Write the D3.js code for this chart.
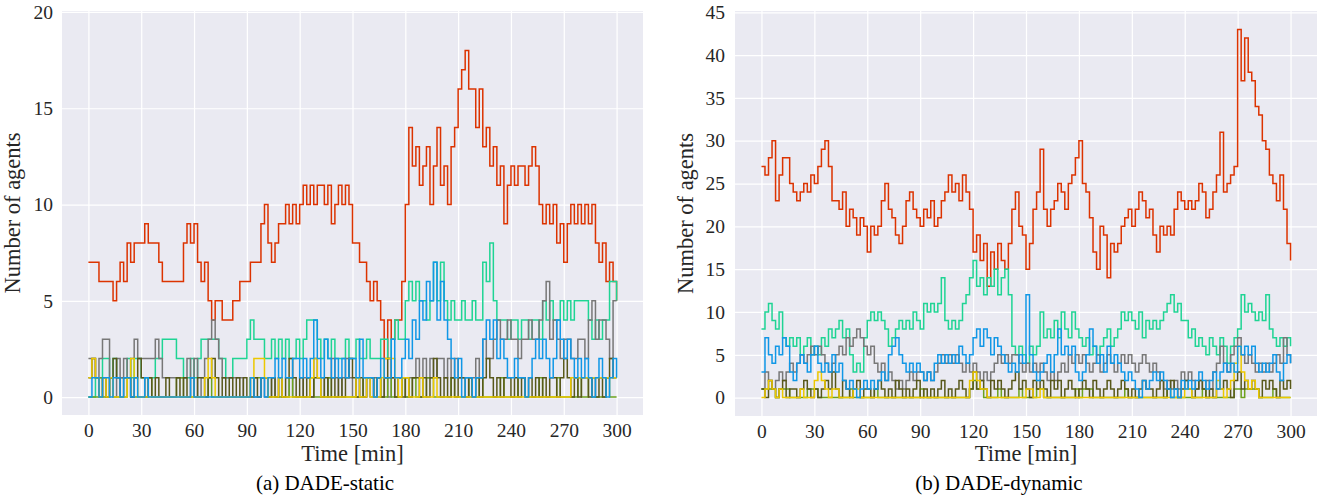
<!DOCTYPE html>
<html>
<head>
<meta charset="utf-8">
<script src="https://cdn.jsdelivr.net/npm/d3@7"></script>
<style>
  body { margin: 0; background: #fff; }
  svg { display: block; }
</style>
</head>
<body>
<div id="chart"></div>
<script>
// Number of agents per group over 300 minutes at 2-minute steps.

const xTicks = [0, 30, 60, 90, 120, 150, 180, 210, 240, 270, 300];
const staticYTicks = [0, 5, 10, 15, 20];
const dynamicYTicks = [0, 5, 10, 15, 20, 25, 30, 35, 40, 45];
const captions = ["(a) DADE-static", "(b) DADE-dynamic"];
const seriesNames = ["red", "teal", "gray", "green", "olive", "yellow", "blue"];

// (a) DADE-static
const staticRed = [7,7,7,6,6,6,6,5,6,7, 6,8,7,8,8,8,9,8,8,8, 7,6,6,6,6,6,6,8,9,8, 9,7,6,7,5,4,5,5,4,4,
  4,5,5,6,6,6,7,7,7,9, 10,8,7,8,9,9,10,9,10,9, 10,11,10,11,10,11,11,10,11,9, 10,11,10,11,10,8,8,7,7,6,
  5,6,5,4,2,4,3,4,4,6, 10,14,12,13,11,12,13,10,12,14, 11,12,10,13,14,16,17,18,16,16, 14,16,13,14,12,13,11,12,9,11,
  12,11,12,12,11,12,13,12,10,9, 10,9,10,8,9,7,9,10,9,10, 9,10,9,10,8,7,8,6,7,6, 5];
const staticTeal = [0,0,1,1,2,2,1,2,1,1, 1,2,1,2,2,1,1,1,1,2, 2,3,3,3,3,2,2,1,1,2, 1,2,3,3,3,3,3,2,2,1,
  1,2,2,2,2,3,4,3,3,3, 2,2,3,2,3,2,3,2,2,3, 2,3,4,4,4,3,2,3,2,3, 2,2,2,3,2,2,3,2,2,3,
  2,2,2,3,3,2,3,4,3,3, 5,6,5,6,5,5,4,5,7,5, 7,5,4,5,4,4,5,4,4,5, 4,4,7,6,8,5,4,4,4,3,
  4,4,3,4,4,3,4,4,3,5, 4,5,4,4,5,4,5,4,5,5, 5,5,4,3,4,3,4,4,6,6, 5];
const staticBlue = [0,1,1,0,1,1,0,1,1,0, 1,1,0,1,0,0,1,0,0,0, 0,0,0,0,0,0,0,0,0,1, 0,0,0,0,0,0,0,0,0,0,
  0,0,0,0,0,0,1,0,0,1, 0,1,1,2,1,2,1,1,2,2, 1,2,1,2,4,2,1,3,2,1, 2,1,2,1,2,2,1,3,1,1,
  1,0,1,2,1,1,3,1,1,2, 3,2,4,3,5,4,6,5,7,4, 6,4,3,2,1,2,0,1,1,0, 1,1,3,4,3,4,2,3,2,1,
  1,2,1,1,0,1,2,3,2,3, 2,1,2,4,3,2,3,2,1,2, 1,2,1,0,1,2,1,0,1,2, 1];
const staticGray = [2,2,1,2,3,3,1,0,2,1, 2,1,2,3,2,2,2,2,2,3, 2,1,1,1,1,1,1,1,2,1, 2,0,1,2,3,4,3,2,1,1,
  1,1,1,1,0,0,1,0,0,1, 0,0,1,0,1,0,0,1,0,0, 0,1,1,0,2,1,1,0,1,2, 1,0,1,2,1,0,1,0,0,1,
  0,1,0,0,1,0,1,0,1,1, 0,1,1,2,1,2,1,2,1,2, 2,1,2,1,2,1,1,1,0,1, 2,1,3,2,2,3,4,3,3,4,
  3,3,2,3,3,4,3,3,4,5, 6,3,4,3,2,3,3,2,2,3, 3,2,4,5,3,4,4,3,2,5, 5];
const staticYellow = [1,2,1,0,1,0,1,0,0,0, 0,1,2,1,0,0,0,0,0,0, 0,0,0,0,0,0,0,0,0,0, 0,0,0,1,2,1,0,0,0,0,
  0,0,0,0,0,0,1,2,2,2, 1,0,0,0,1,0,0,0,0,0, 0,0,0,1,2,1,0,0,0,0, 0,0,0,0,0,0,1,0,0,1,
  0,0,0,1,2,2,2,1,0,1, 1,0,0,0,1,0,0,0,1,0, 0,0,0,0,0,0,0,0,0,0, 0,0,0,0,0,0,0,0,0,0,
  0,0,0,0,0,0,0,0,0,0, 0,0,0,0,0,0,0,1,1,1, 1,1,1,1,1,1,1,1,1,1, 1];
const staticOlive = [1,2,1,0,1,0,1,2,1,0, 1,1,0,1,2,1,0,1,0,1, 0,0,1,0,0,1,0,1,0,1, 0,1,1,0,1,2,1,0,1,0,
  1,0,1,0,1,0,0,1,0,1, 1,0,1,0,1,0,1,2,1,0, 1,0,1,0,1,1,0,1,0,1, 0,1,0,1,2,1,0,1,0,1,
  1,0,1,0,1,2,1,0,1,0, 1,0,1,1,0,1,0,1,2,1, 0,1,0,1,0,1,1,0,1,0, 1,0,1,2,1,0,1,0,1,1,
  0,1,0,1,0,1,0,1,0,1, 0,1,1,0,1,2,1,0,1,0, 1,1,0,1,0,1,0,1,2,1, 1];
const staticGreen = [0,0,0,1,0,0,1,0,0,0, 0,1,0,0,0,0,0,1,0,0, 0,0,0,0,0,1,1,0,0,0, 0,0,0,0,1,0,0,0,0,0,
  0,0,0,0,0,0,1,1,1,1, 1,0,0,0,0,0,0,1,0,0, 0,0,0,1,0,0,0,0,1,0, 0,0,0,0,0,0,0,0,1,1,
  1,0,1,0,0,1,0,0,0,1, 0,0,1,0,0,0,1,1,0,0, 0,0,0,1,0,0,0,0,1,0, 0,1,0,0,0,0,0,1,0,0,
  0,0,1,1,0,0,0,0,1,0, 0,0,0,1,0,0,0,0,0,1, 0,0,1,0,0,0,0,1,0,0, 0];

// (b) DADE-dynamic
const dynamicRed = [27,26,28,30,23,26,28,28,25,24, 23,24,25,24,26,25,27,29,30,27, 23,23,22,24,20,22,21,19,21,20, 17,20,19,20,23,25,22,21,19,18,
  20,23,24,22,21,20,22,21,23,20, 21,23,24,26,24,25,23,26,24,22, 17,19,16,18,13,17,15,18,16,15, 18,22,24,20,19,15,18,22,24,29,
  22,20,22,23,25,24,22,25,26,28, 30,25,24,21,17,15,20,19,14,18, 17,18,20,21,22,20,22,24,23,21, 22,19,17,20,19,20,19,22,24,23,
  22,23,22,23,25,24,21,22,24,26, 31,24,25,26,27,43,37,42,38,37, 34,33,30,29,26,25,23,26,22,18, 16];
const dynamicTeal = [8,10,11,9,8,10,7,6,7,6, 7,5,6,7,5,6,5,7,6,8, 7,8,9,7,8,5,3,4,3,7, 9,10,9,10,9,8,6,7,8,9,
  8,9,8,10,9,8,11,10,11,10, 11,14,9,8,9,8,9,11,12,14, 16,13,14,12,14,13,15,12,14,15, 12,6,5,6,5,4,6,5,6,10,
  7,8,7,9,7,10,8,7,10,8, 7,6,7,5,6,5,6,7,8,6, 7,8,10,9,10,9,8,10,7,9, 8,9,8,9,10,11,12,10,11,9,
  9,7,8,6,7,6,5,7,6,5, 7,6,4,6,7,8,12,10,11,10, 9,10,9,12,8,7,6,7,6,7, 6];
const dynamicBlue = [3,7,5,4,6,5,7,6,3,2, 4,5,4,3,5,6,4,3,4,3, 5,3,4,2,1,2,1,0,1,2, 1,2,1,2,3,2,5,6,7,5,
  4,3,4,3,4,3,2,3,2,4, 5,4,5,4,5,4,6,5,4,5, 7,8,6,8,7,5,7,6,5,4, 3,4,3,5,4,12,5,3,2,3,
  4,5,3,5,8,5,6,5,6,3, 2,3,5,8,6,4,5,3,6,4, 5,4,3,2,3,2,1,0,2,1, 2,3,2,3,2,1,0,1,0,2,
  1,2,1,2,3,2,1,2,3,1, 3,4,3,4,3,6,5,6,5,6, 4,3,4,3,4,5,3,2,4,5, 4];
const dynamicGray = [1,3,2,1,2,3,2,3,4,3, 4,5,4,5,6,5,6,5,4,3, 4,5,6,5,7,6,7,8,7,6, 5,6,4,3,4,2,3,2,1,2,
  1,2,3,2,3,3,2,3,2,3, 4,5,4,5,4,5,4,3,4,3, 4,3,2,3,2,3,4,5,4,5, 4,5,5,4,3,4,3,4,3,4,
  3,2,3,2,3,4,3,5,4,5, 4,5,4,3,4,5,3,4,5,4, 3,4,5,4,5,4,3,4,5,4, 3,4,3,2,1,2,1,2,1,3,
  2,3,2,1,2,1,2,1,3,4, 6,4,3,5,6,7,5,4,5,4, 3,4,3,4,3,4,5,4,7,5, 4];
const dynamicYellow = [0,1,2,1,0,1,0,0,0,0, 0,1,0,0,0,2,3,2,1,0, 1,1,0,0,0,0,1,1,0,0, 0,0,0,0,0,0,0,0,0,0,
  0,0,0,0,0,0,0,0,0,0, 0,0,0,0,0,0,0,0,0,2, 3,2,1,1,0,0,0,0,0,0, 0,0,0,0,0,1,1,0,0,1,
  0,0,0,0,0,0,0,0,0,0, 0,0,0,0,0,0,0,0,0,0, 0,0,0,0,0,0,0,0,0,0, 0,0,0,0,0,0,0,0,0,0,
  1,1,0,0,0,0,0,0,0,2, 1,0,1,2,4,6,3,2,1,2, 1,0,0,0,0,0,0,0,0,0, 0];
const dynamicOlive = [1,0,2,1,0,1,2,0,1,1, 0,1,2,1,0,1,0,1,2,1, 3,1,0,2,1,0,1,2,0,1, 1,0,1,2,1,0,1,0,2,1,
  0,1,0,1,2,0,1,0,1,0, 1,2,0,1,0,1,2,1,0,1, 3,1,2,1,0,2,1,2,1,0, 1,2,3,1,2,1,0,2,1,2,
  1,0,2,1,2,0,1,2,1,0, 1,2,1,0,2,1,0,1,2,1, 0,1,2,1,0,1,0,1,2,1, 1,0,1,2,0,1,2,1,0,1,
  2,1,0,1,2,1,0,1,0,1, 1,2,1,0,2,3,1,2,1,2, 1,0,2,1,2,1,0,2,1,2, 1];
const dynamicGreen = [1,1,1,1,0,1,1,1,0,0, 0,0,0,1,1,1,0,0,0,0, 0,0,0,0,0,1,0,0,0,0, 0,0,1,0,0,0,0,0,0,0,
  0,0,0,0,0,1,0,0,0,0, 0,0,0,0,0,0,0,0,0,1, 2,1,1,0,0,0,0,1,0,0, 0,0,0,1,0,0,0,0,1,1,
  0,0,0,0,0,0,0,0,0,1, 0,1,1,1,0,0,0,0,0,0, 0,0,0,1,0,0,0,0,0,0, 0,0,0,0,0,1,0,0,0,0,
  0,0,0,0,0,1,0,0,0,0, 0,0,0,0,1,1,0,1,1,1, 1,0,0,0,0,1,0,0,0,0, 0];

const colors = {
  red: "#dc3300", teal: "#1fd494", blue: "#1097e6", gray: "#777777",
  yellow: "#ecc800", olive: "#58581a", green: "#6da21e"
};

const panels = [
  {
    caption: captions[0], captionX: 325, labelX: 20,
    left: 62, right: 643, top: 11, bottom: 415,
    yDomain: [-0.93, 20.05], yTicks: staticYTicks, pad: 9,
    series: { red: staticRed, teal: staticTeal, blue: staticBlue, gray: staticGray,
      yellow: staticYellow, olive: staticOlive, green: staticGreen }
  },
  {
    caption: captions[1], captionX: 999, labelX: 693,
    left: 735, right: 1317, top: 11, bottom: 416,
    yDomain: [-2.15, 45.15], yTicks: dynamicYTicks, pad: 10,
    series: { red: dynamicRed, teal: dynamicTeal, blue: dynamicBlue, gray: dynamicGray,
      yellow: dynamicYellow, olive: dynamicOlive, green: dynamicGreen }
  }
];

const font = "'Liberation Serif', 'DejaVu Serif', serif";
const textColor = "#262626";

const svg = d3.select("#chart").append("svg")
  .attr("width", 1320)
  .attr("height", 499)
  .style("background", "#fff");

panels.forEach((p, i) => {
  const x = d3.scaleLinear().domain([-15, 315]).range([p.left, p.right]);
  const y = d3.scaleLinear().domain(p.yDomain).range([p.bottom, p.top]);

  const g = svg.append("g");

  g.append("rect")
    .attr("x", p.left)
    .attr("y", p.top)
    .attr("width", p.right - p.left)
    .attr("height", p.bottom - p.top)
    .attr("fill", "#eaeaf2");

  // x grid + tick labels
  g.append("g")
    .attr("transform", `translate(0,${p.bottom})`)
    .call(d3.axisBottom(x).tickValues(xTicks).tickSize(-(p.bottom - p.top)).tickPadding(8))
    .call(a => a.select(".domain").remove())
    .call(a => a.selectAll("line").attr("stroke", "#fff").attr("stroke-width", 1.2))
    .call(a => a.selectAll("text")
      .attr("fill", textColor)
      .style("font-family", font)
      .style("font-size", "19.5px"));

  // y grid + tick labels
  g.append("g")
    .attr("transform", `translate(${p.left},0)`)
    .call(d3.axisLeft(y).tickValues(p.yTicks).tickSize(-(p.right - p.left)).tickPadding(p.pad))
    .call(a => a.select(".domain").remove())
    .call(a => a.selectAll("line").attr("stroke", "#fff").attr("stroke-width", 1.2))
    .call(a => a.selectAll("text")
      .attr("fill", textColor)
      .style("font-family", font)
      .style("font-size", "19.5px"));

  const clipId = `clip${i}`;
  svg.append("clipPath").attr("id", clipId)
    .append("rect")
    .attr("x", p.left).attr("y", p.top)
    .attr("width", p.right - p.left).attr("height", p.bottom - p.top);

  const lines = g.append("g").attr("clip-path", `url(#${clipId})`);

  seriesNames.forEach(name => {
    const values = p.series[name];
    const step = 300 / (values.length - 1);
    const line = d3.line()
      .curve(d3.curveStepAfter)
      .x((d, j) => x(j * step))
      .y(d => y(d));
    lines.append("path")
      .datum(values)
      .attr("fill", "none")
      .attr("stroke", colors[name])
      .attr("stroke-width", 1.5)
      .attr("d", line);
  });

  g.append("text")
    .attr("x", (p.left + p.right) / 2)
    .attr("y", 461)
    .attr("text-anchor", "middle")
    .attr("fill", textColor)
    .style("font-family", font)
    .style("font-size", "22.5px")
    .text("Time [min]");

  g.append("text")
    .attr("transform", `translate(${p.labelX},${(p.top + p.bottom) / 2}) rotate(-90)`)
    .attr("text-anchor", "middle")
    .attr("fill", textColor)
    .style("font-family", font)
    .style("font-size", "22.5px")
    .text("Number of agents");

  g.append("text")
    .attr("x", p.captionX)
    .attr("y", 490)
    .attr("text-anchor", "middle")
    .attr("fill", "#000")
    .style("font-family", font)
    .style("font-size", "21px")
    .text(p.caption);
});
</script>
</body>
</html>
